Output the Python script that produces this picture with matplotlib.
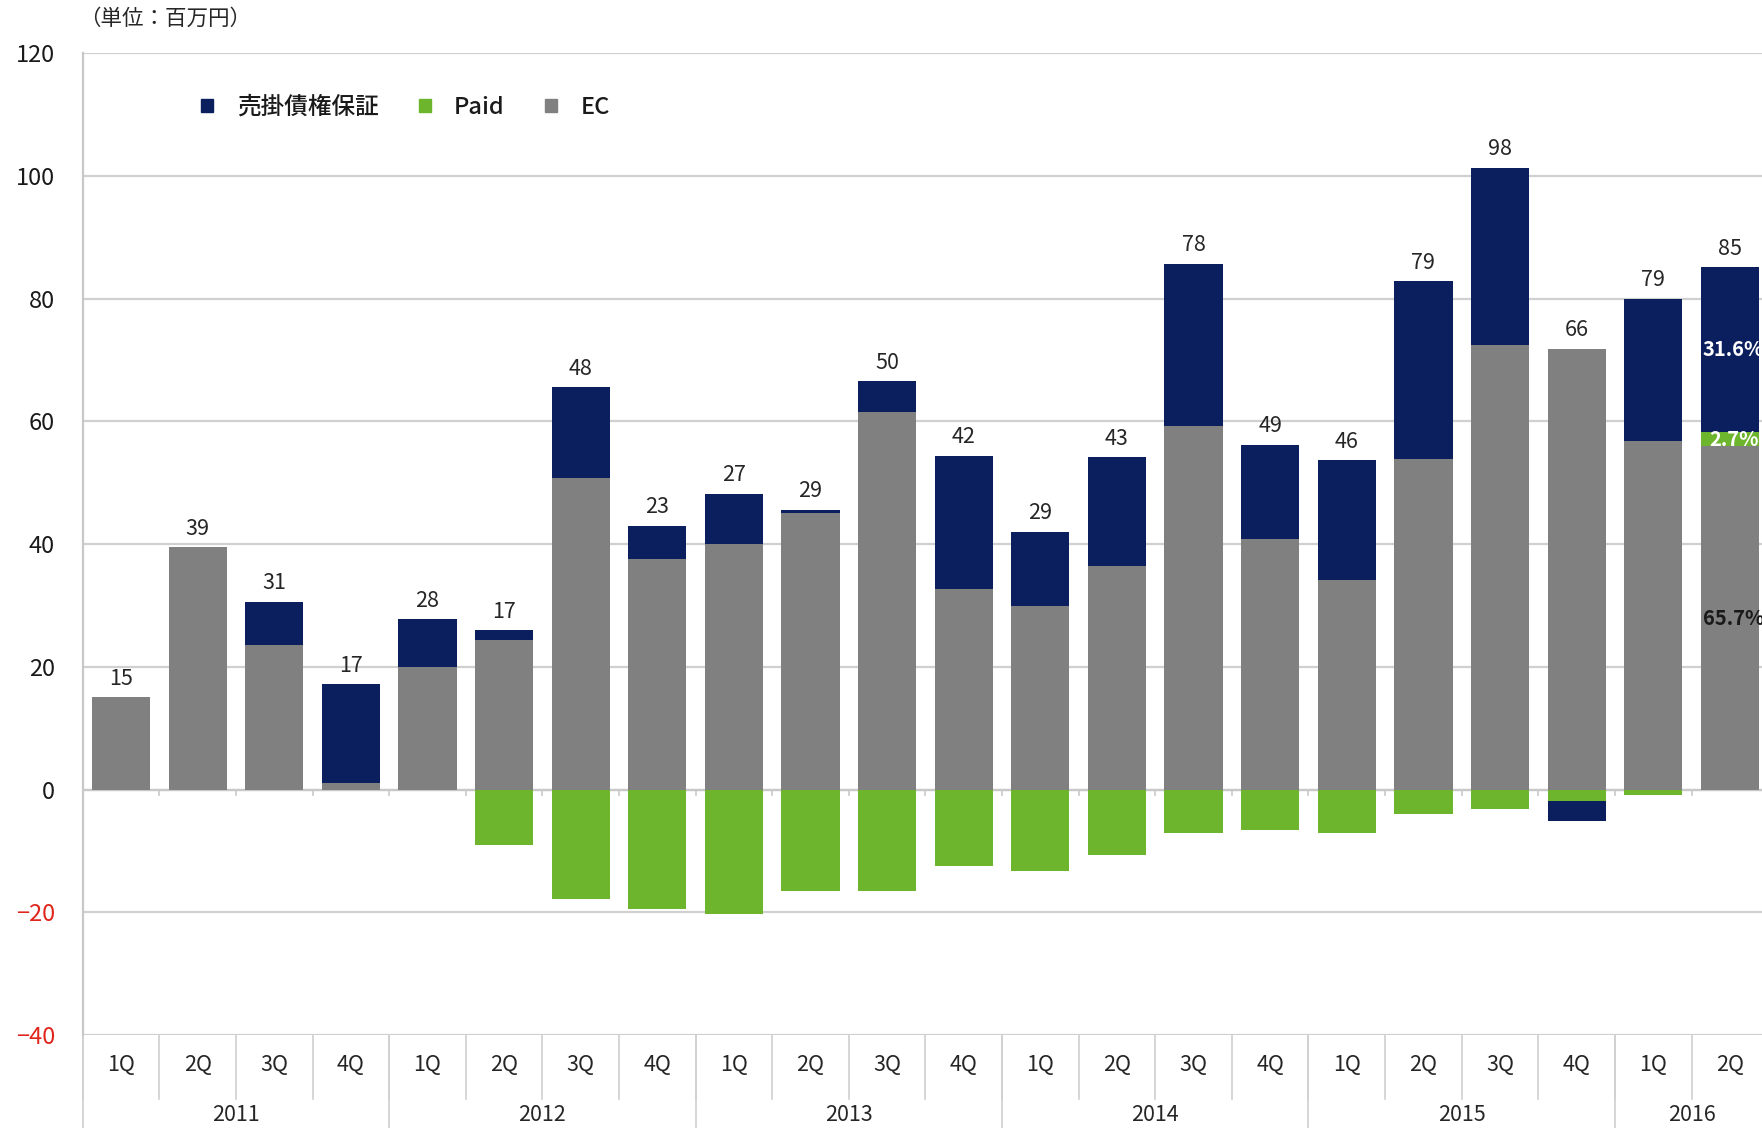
import numpy as np
import matplotlib.pyplot as plt
from matplotlib.transforms import blended_transform_factory

plt.rcParams['font.family'] = ['Noto Sans CJK JP', 'DejaVu Sans']

quarters = ['1Q', '2Q', '3Q', '4Q'] * 5 + ['1Q', '2Q']
years = ['2011', '2012', '2013', '2014', '2015', '2016']

# 百万円
ec = [15, 39.5, 23.6, 1, 20, 24.4, 50.7, 37.5, 40, 45, 61.5, 32.6,
      29.9, 36.4, 59.3, 40.8, 34.2, 53.8, 72.5, 71.8, 56.8, 55.9]
paid = [0, 0, 0, 0, 0, -9, -17.8, -19.4, -20.3, -16.5, -16.5, -12.5,
        -13.2, -10.6, -7.1, -6.6, -7.1, -4, -3.1, -1.9, -0.9, 2.3]
guarantee = [0, 0, 7, 16.2, 7.8, 1.6, 14.9, 5.5, 8.2, 0.6, 5, 21.8,
             12.1, 17.8, 26.4, 15.4, 19.5, 29, 28.8, -3.2, 23.2, 26.9]
totals = [15, 39, 31, 17, 28, 17, 48, 23, 27, 29, 50, 42,
          29, 43, 78, 49, 46, 79, 98, 66, 79, 85]
shares_last = ['65.7%', '2.7%', '31.6%']

navy = '#0b1f5e'
green = '#6cb52d'
gray = '#808080'

x = np.arange(len(ec))
series = [(np.array(ec, float), gray), (np.array(paid, float), green),
          (np.array(guarantee, float), navy)]

fig = plt.figure(figsize=(17.62, 11.28), dpi=100)
ax = fig.add_axes([0.047, 0.0824, 0.953, 0.8706])

pos = np.zeros(len(x))
neg = np.zeros(len(x))
tops = {}
for vals, c in series:
    bottom = np.where(vals >= 0, pos, neg)
    ax.bar(x, vals, bottom=bottom, width=0.76, color=c, zorder=3)
    tops[c] = (bottom, vals)
    pos = pos + np.clip(vals, 0, None)
    neg = neg + np.clip(vals, None, 0)

for xi, top, t in zip(x, pos, totals):
    ax.text(xi, top + 1.2, str(t), ha='center', va='bottom', fontsize=15.5,
            color='#262626', zorder=4)

# share labels on the last bar
i = len(x) - 1
for (vals, c), s, col in zip(series, shares_last, ['#1a1a1a', 'white', 'white']):
    b, v = tops[c]
    yc = b[i] + v[i] / 2
    if c == gray:
        yc = 27.8
    ax.text(i + 0.05, yc, s, ha='center', va='center', fontsize=14.5,
            color=col, fontweight='bold', zorder=4)

ax.set_xlim(-0.5, 21.42)
ax.set_ylim(-40, 120)
ax.set_yticks(np.arange(-40, 121, 20))
ax.yaxis.grid(True, color='#d0d0d0', linewidth=1.6, zorder=0)
ax.set_axisbelow(True)
for s in ['top', 'right', 'bottom']:
    ax.spines[s].set_visible(False)
ax.spines['left'].set_color('#c8c8c8')
ax.spines['left'].set_linewidth(1.6)
ax.tick_params(axis='y', length=0, labelsize=17, pad=20)
for lab, v in zip(ax.get_yticklabels(), ax.get_yticks()):
    lab.set_color('#e0261c' if v < 0 else '#1a1a1a')
ax.set_xticks([])

# zero line with small ticks between categories
ax.axhline(0, color='#c8c8c8', linewidth=1.6, zorder=2)
bounds = np.arange(len(x) + 1) - 0.5
for b in bounds[1:]:
    ax.plot([b, b], [0, -0.9], color='#c8c8c8', linewidth=1.2, zorder=2)

# category axis: quarters and years below the plot
tr = blended_transform_factory(ax.transData, ax.transAxes)
for b in bounds:
    ax.plot([b, b], [0, -0.065], transform=tr, color='#d0d0d0',
            linewidth=1.2, clip_on=False)
for xi, q in zip(x, quarters):
    ax.text(xi, -0.031, q, transform=tr, ha='center', va='center',
            fontsize=15.5, color='#262626')
starts = np.arange(0, len(x), 4)
for k, (s, yr) in enumerate(zip(starts, years)):
    e = min(s + 4, len(x))
    ax.plot([s - 0.5, s - 0.5], [0, -0.2], transform=tr, color='#d0d0d0',
            linewidth=1.2, clip_on=False)
    ax.text((s + e - 1) / 2, -0.081, yr, transform=tr, ha='center',
            va='center', fontsize=15.5, color='#262626')

# legend
handles = [plt.Rectangle((0, 0), 1, 1, color=navy),
           plt.Rectangle((0, 0), 1, 1, color=green),
           plt.Rectangle((0, 0), 1, 1, color=gray)]
leg = ax.legend(handles, ['売掛債権保証', 'Paid', 'EC'], loc='upper left',
                bbox_to_anchor=(0.058, 0.978), ncol=3, frameon=False,
                fontsize=17, handlelength=0.5, handleheight=0.5,
                columnspacing=1.7, handletextpad=1.0)
for t in leg.get_texts():
    t.set_color('#1a1a1a')
    t.set_fontweight('medium')

fig.text(0.045, 0.983, '（単位：百万円）', fontsize=15.5, color='#262626',
         va='center', ha='left')

fig.savefig('out.png', dpi=100)
